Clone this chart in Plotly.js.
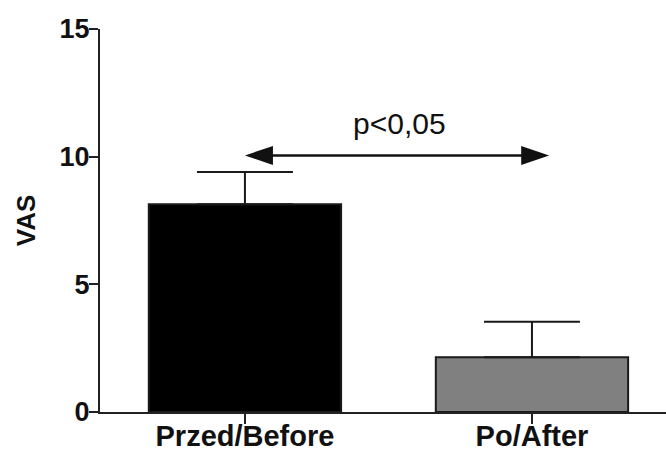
<!DOCTYPE html>
<html>
<head>
<meta charset="utf-8">
<script src="https://cdn.plot.ly/plotly-3.0.1.min.js"></script>
<style>html,body{margin:0;padding:0;background:#fff}#chart{width:666px;height:451px}</style>
</head>
<body>
<div id="chart"></div>
<script>
const categories = ['Przed/Before', 'Po/After'];
const means = [8.14, 2.14];
const errorsUp = [1.26, 1.39];
const barColors = ['#000000', '#808080'];
const yTicks = [0, 5, 10, 15];
const pLabel = 'p<0,05';
const arrowY = 10.05;
const arrowStart = 0;
const arrowEnd = 1.06;

const FONT = '"Liberation Sans", Arial, Helvetica, sans-serif';
const INK = '#111';

const trace = {
  type: 'bar',
  x: [0, 1],
  y: means,
  width: 0.67,
  marker: { color: barColors, line: { color: '#1a1a1a', width: 2 } },
  error_y: {
    type: 'data', symmetric: false, array: errorsUp, arrayminus: [0, 0],
    color: '#1a1a1a', thickness: 2, width: 48
  },
  hoverinfo: 'skip'
};

const HEAD_L = 28, HEAD_H = 9.5;
function head(anchorX, dir) {
  return {
    type: 'path', xref: 'x', yref: 'y',
    xsizemode: 'pixel', ysizemode: 'pixel',
    xanchor: anchorX, yanchor: arrowY,
    path: `M0,0 L${dir * HEAD_L},${HEAD_H} L${dir * HEAD_L},${-HEAD_H} Z`,
    fillcolor: INK, line: { width: 0 }, layer: 'above'
  };
}

const layout = {
  width: 666, height: 451,
  margin: { l: 100, r: 0, t: 29, b: 39 },
  paper_bgcolor: '#fff', plot_bgcolor: '#fff',
  showlegend: false,
  font: { family: FONT, color: INK },
  xaxis: {
    range: [-0.505, 1.467],
    tickmode: 'array', tickvals: [0, 1], ticktext: categories,
    showgrid: false, zeroline: false,
    showline: true, linecolor: '#222', linewidth: 2,
    ticks: 'outside', ticklen: 10, tickwidth: 2, tickcolor: '#222',
    ticklabelstandoff: -13,
    tickfont: { family: FONT, size: 29, color: INK, weight: 'bold' },
    fixedrange: true
  },
  yaxis: {
    range: [0, 15],
    tickmode: 'array', tickvals: yTicks, ticktext: yTicks.map(String),
    showgrid: false, zeroline: false,
    showline: true, linecolor: '#222', linewidth: 2,
    ticks: 'outside', ticklen: 9, tickwidth: 2, tickcolor: '#222',
    ticklabelstandoff: -6,
    tickfont: { family: FONT, size: 27, color: INK, weight: 'bold' },
    title: { text: 'VAS', font: { family: FONT, size: 26, color: INK, weight: 'bold' }, standoff: 16 },
    fixedrange: true
  },
  shapes: [
    {
      type: 'line', xref: 'x', yref: 'y',
      x0: arrowStart + 0.05, x1: arrowEnd - 0.05, y0: arrowY, y1: arrowY,
      line: { color: INK, width: 2.5 }, layer: 'above'
    },
    head(arrowStart, 1),
    head(arrowEnd, -1)
  ],
  annotations: [
    {
      x: 0.54, y: 11.3, xref: 'x', yref: 'y',
      text: pLabel, showarrow: false,
      font: { family: FONT, size: 30, color: INK }
    }
  ]
};

Plotly.newPlot('chart', [trace], layout, { displayModeBar: false, staticPlot: true });
</script>
</body>
</html>
